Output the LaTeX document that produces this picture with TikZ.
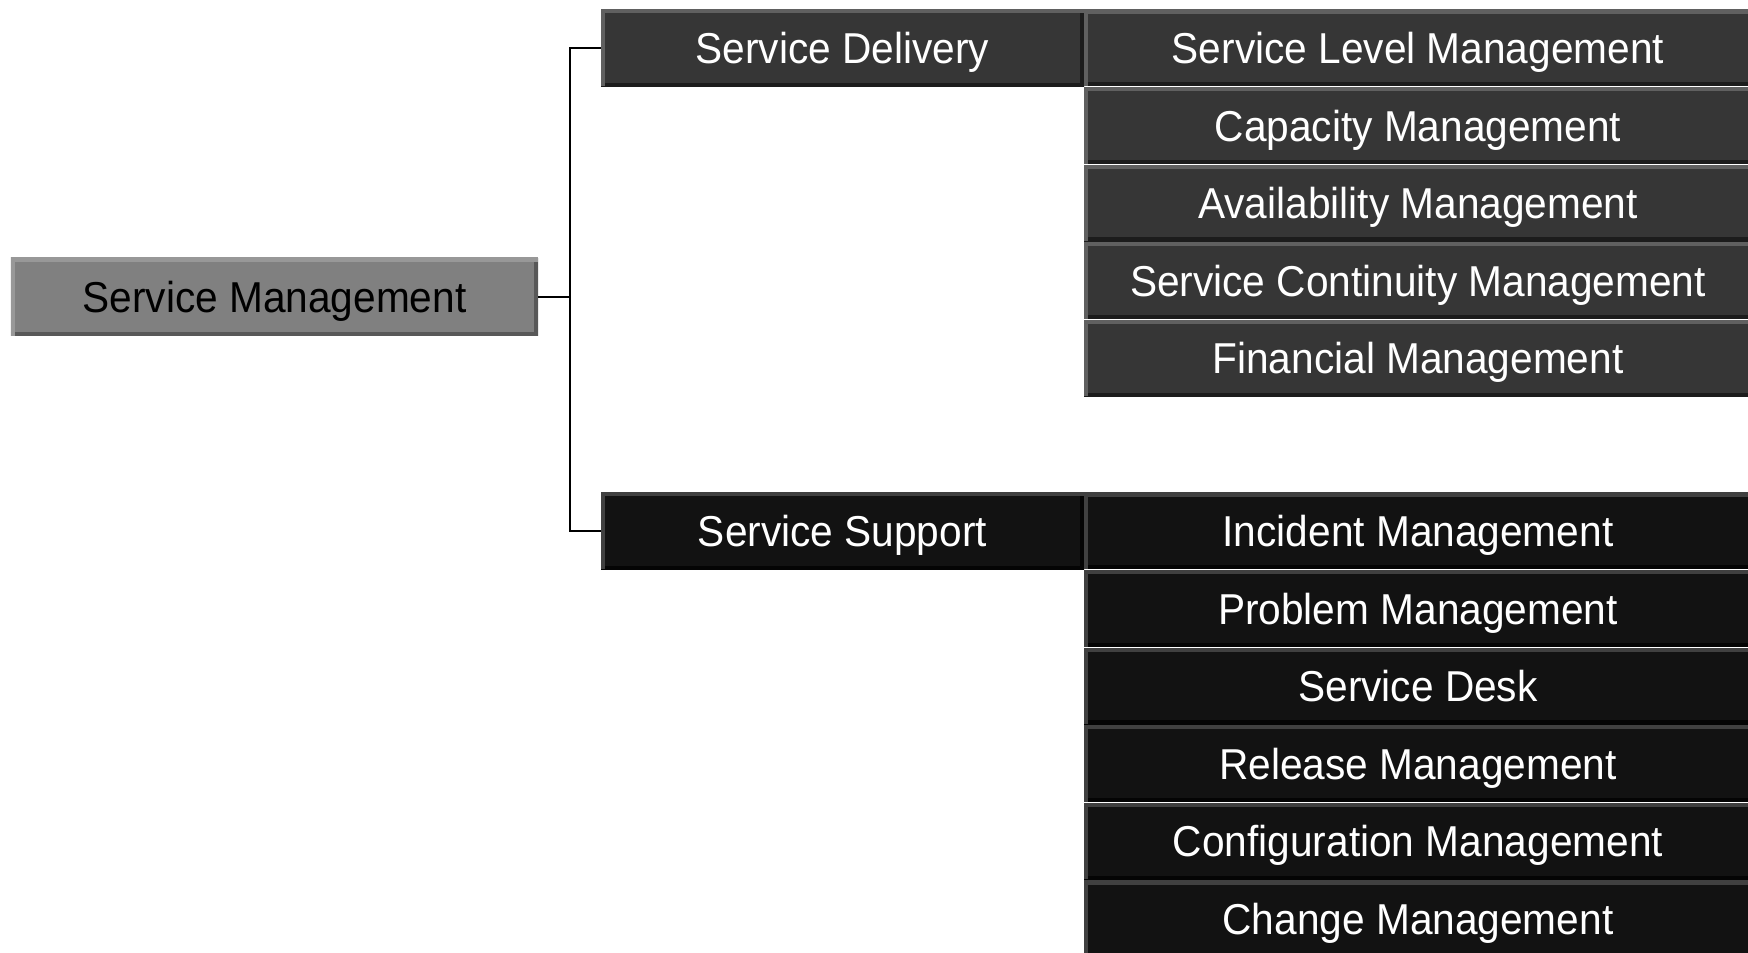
\documentclass[tikz,border=0pt]{standalone}
\usepackage{fontspec}
\setmainfont{Liberation Sans}[FakeStretch=0.94]
\usepackage{tikz}
\usetikzlibrary{positioning}
\definecolor{smvul}{RGB}{128,128,128}
\definecolor{smlicht}{RGB}{152,152,152}
\definecolor{smdonker}{RGB}{88,88,88}
\definecolor{sdvul}{RGB}{54,54,54}
\definecolor{sdlicht}{RGB}{96,96,96}
\definecolor{sddonker}{RGB}{28,28,28}
\definecolor{ssvul}{RGB}{18,18,18}
\definecolor{sslicht}{RGB}{64,64,64}
\definecolor{ssdonker}{RGB}{4,4,4}

\begin{document}
\begin{tikzpicture}[font=\fontsize{12.3}{14}\selectfont,
                rand/.style 2 args={path picture={
                    \draw[#2, line width=2.2pt] (path picture bounding box.south west) -- (path picture bounding box.south east) -- (path picture bounding box.north east);
                    \draw[#1, line width=2pt] (path picture bounding box.south west) -- (path picture bounding box.north west) -- (path picture bounding box.north east);}},
                vak/.style={inner sep=0pt, outer sep=0pt, text height=8.8pt, text depth=0pt},
                sm/.style={vak, minimum width=52.7mm, minimum height=7.8mm, fill=smvul, text=black, rand={smlicht}{smdonker}},
                grp/.style={vak, minimum width=48.3mm, minimum height=7.7mm, text=white},
                proc/.style={vak, minimum width=66.8mm, minimum height=7.6mm, text=white},
                lev/.style={fill=sdvul, rand={sdlicht}{sddonker}},
                ondr/.style={fill=ssvul, rand={sslicht}{ssdonker}},
                lijn/.style={line width=0.8pt, black}]

            \useasboundingbox (0, 0) rectangle (17.48, -9.53);

            % hoofdblok
            \node[sm] (sm) at (2.745, -2.97) {Service Management};

            % service delivery
            \node[grp, lev] (sd) at (8.425, -0.48) {Service Delivery};
            \node[proc, lev, right=0pt of sd] (slm) {Service Level Management};
            \node[proc, lev, below=0.16mm of slm] (cap) {Capacity Management};
            \node[proc, lev, below=0.16mm of cap] (avm) {Availability Management};
            \node[proc, lev, below=0.16mm of avm] (scm) {Service Continuity Management};
            \node[proc, lev, below=0.16mm of scm] (fin) {Financial Management};

            % service support
            \node[grp, ondr] (ss) at (8.425, -5.31) {Service Support};
            \node[proc, ondr, right=0pt of ss] (inc) {Incident Management};
            \node[proc, ondr, below=0.16mm of inc] (prb) {Problem Management};
            \node[proc, ondr, below=0.16mm of prb] (desk) {Service Desk};
            \node[proc, ondr, below=0.16mm of desk] (rel) {Release Management};
            \node[proc, ondr, below=0.16mm of rel] (cfg) {Configuration Management};
            \node[proc, ondr, below=0.16mm of cfg] (chg) {Change Management};

            % verbindingen
            \draw[lijn] (sm.east) -- ++(0.32, 0) coordinate (knoop) |- (sd.west);
            \draw[lijn] (knoop) |- (ss.west);

        \end{tikzpicture}
\end{document}
